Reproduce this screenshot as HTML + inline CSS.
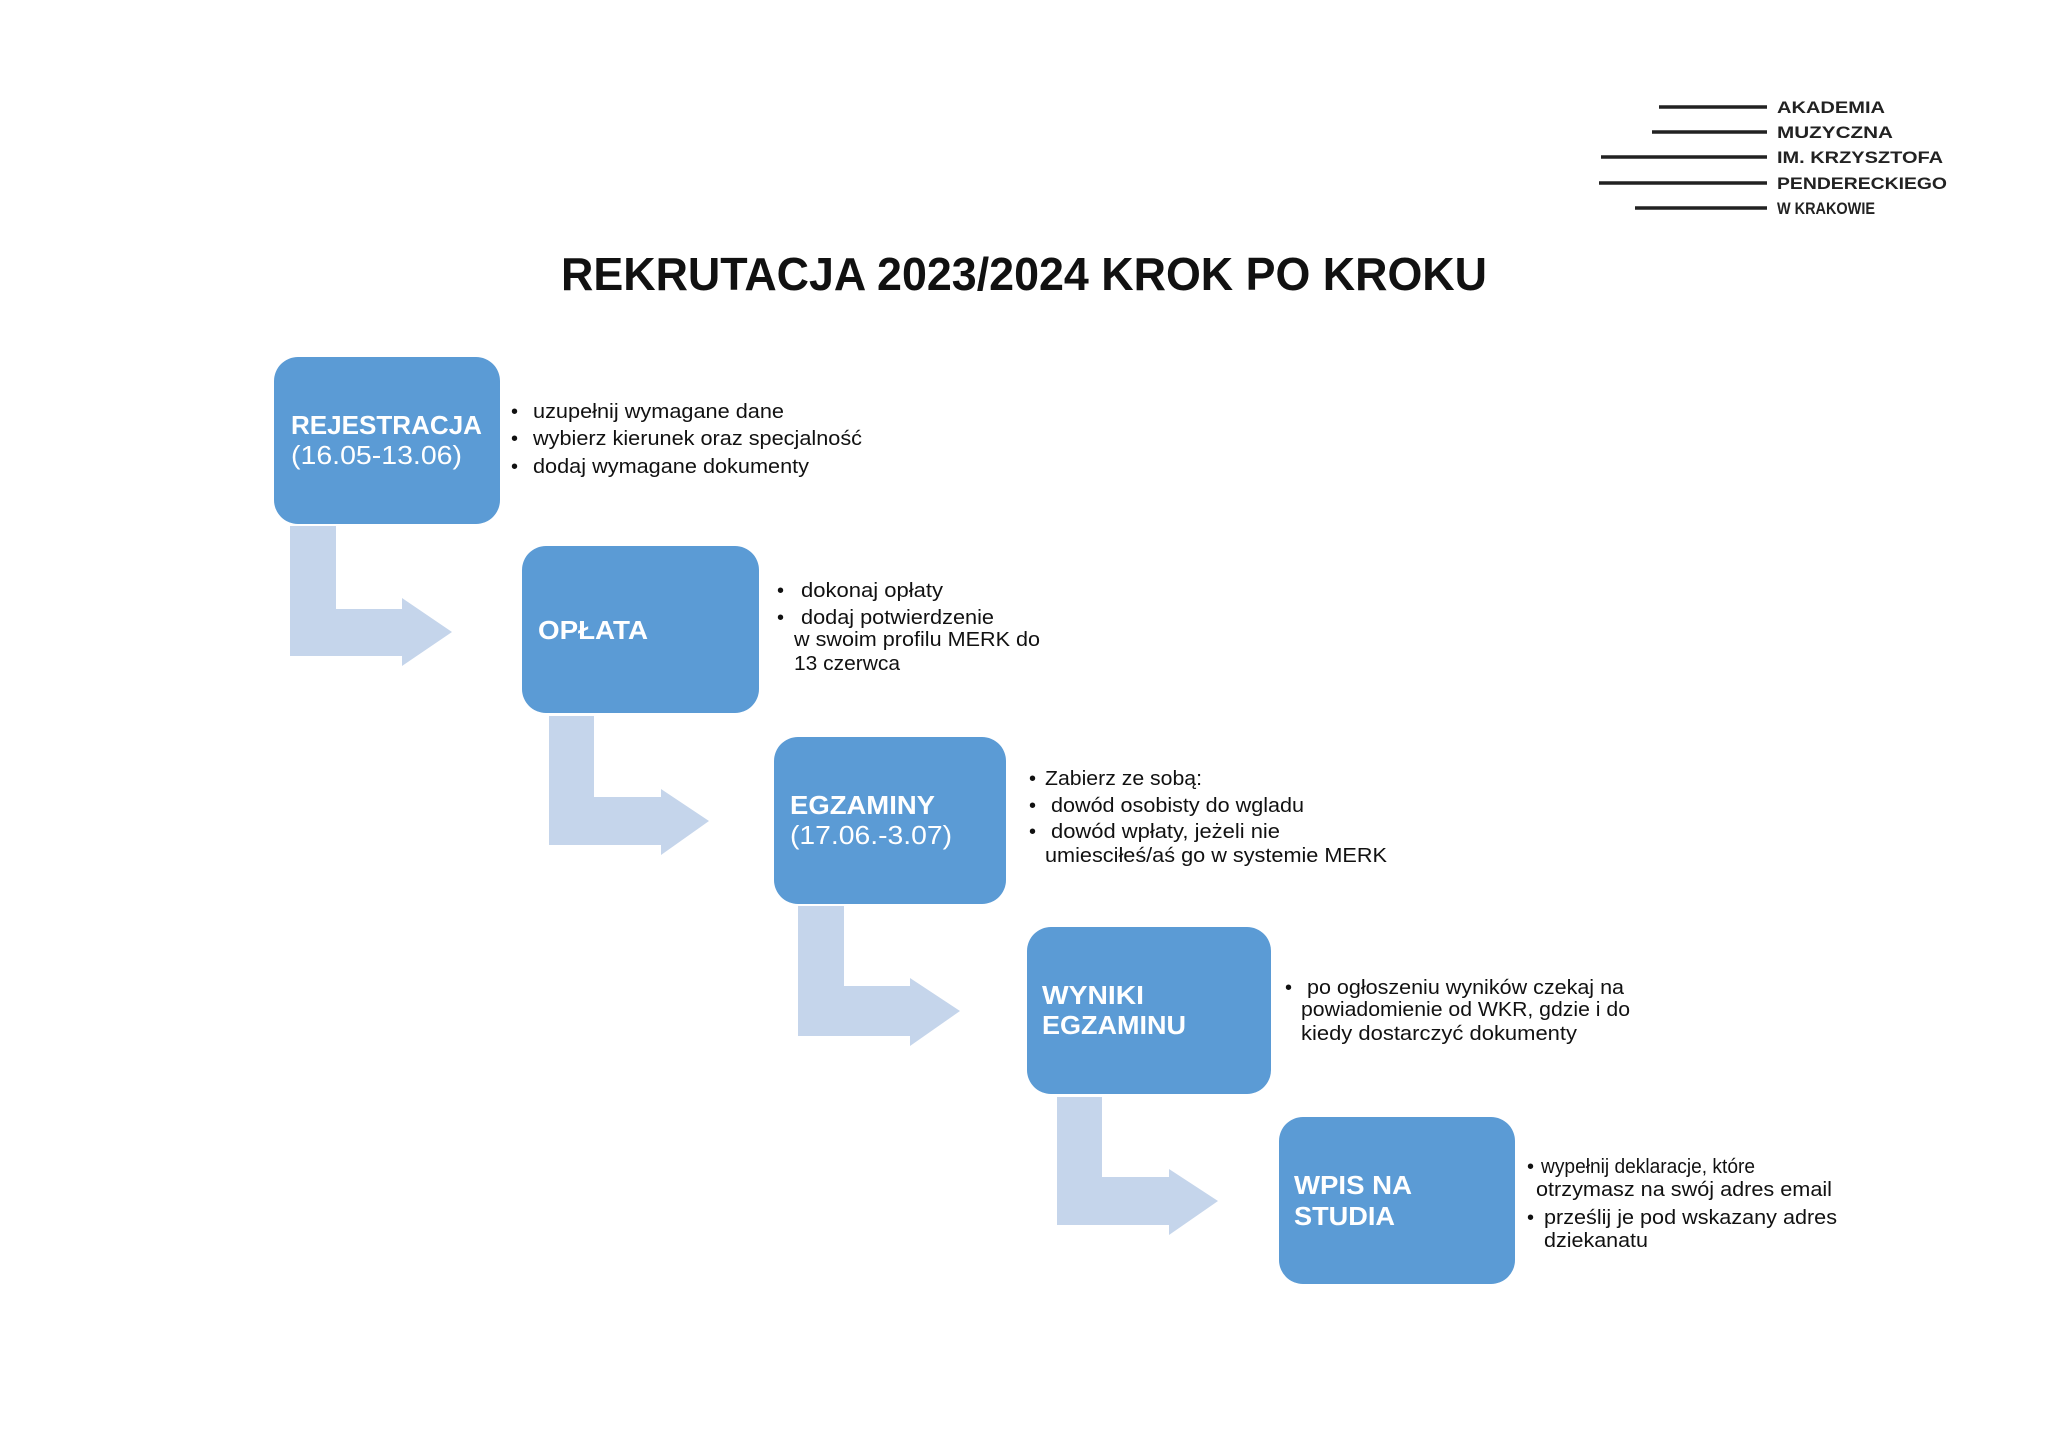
<!DOCTYPE html>
<html><head><meta charset="utf-8"><style>
html,body{margin:0;padding:0;background:#fff;}
svg{display:block;}
.t{font-family:"Liberation Sans",sans-serif;}
.b{font-family:"Liberation Sans",sans-serif;font-weight:bold;fill:#fff;font-size:26px;}
.r{font-family:"Liberation Sans",sans-serif;fill:#fff;font-size:26px;}
.s{font-family:"Liberation Sans",sans-serif;fill:#111;font-size:20px;}
.l{font-family:"Liberation Sans",sans-serif;font-weight:bold;fill:#222;font-size:17px;}
</style></head><body>
<svg width="2048" height="1449" viewBox="0 0 2048 1449" xmlns="http://www.w3.org/2000/svg">
<rect width="2048" height="1449" fill="#fff"/>
<!-- logo -->
<g stroke="#222" stroke-width="3.5">
<line x1="1659" y1="107" x2="1767" y2="107"/>
<line x1="1652" y1="132" x2="1767" y2="132"/>
<line x1="1601" y1="157" x2="1767" y2="157"/>
<line x1="1599" y1="183" x2="1767" y2="183"/>
<line x1="1635" y1="208" x2="1767" y2="208"/>
</g>
<text class="l" x="1777" y="113" textLength="108" lengthAdjust="spacingAndGlyphs">AKADEMIA</text>
<text class="l" x="1777" y="138" textLength="116" lengthAdjust="spacingAndGlyphs">MUZYCZNA</text>
<text class="l" x="1777" y="163" textLength="166" lengthAdjust="spacingAndGlyphs">IM. KRZYSZTOFA</text>
<text class="l" x="1777" y="189" textLength="170" lengthAdjust="spacingAndGlyphs">PENDERECKIEGO</text>
<text class="l" x="1777" y="214" textLength="98" lengthAdjust="spacingAndGlyphs">W KRAKOWIE</text>
<!-- title -->
<text class="t" x="561" y="290" font-size="46" font-weight="bold" fill="#111" textLength="926" lengthAdjust="spacingAndGlyphs">REKRUTACJA 2023/2024 KROK PO KROKU</text>
<!-- arrows -->
<g fill="#c5d5eb">
<polygon points="290,526 336,526 336,609 402,609 402,598 452,632 402,666 402,656 290,656"/>
<polygon points="549,716 594,716 594,797 661,797 661,789 709,821 661,855 661,845 549,845"/>
<polygon points="798,906 844,906 844,986 910,986 910,978 960,1011 910,1046 910,1036 798,1036"/>
<polygon points="1057,1097 1102,1097 1102,1177 1169,1177 1169,1169 1218,1201 1169,1235 1169,1225 1057,1225"/>
</g>
<!-- boxes -->
<g fill="#5b9bd5">
<rect x="274" y="357" width="226" height="167" rx="24"/>
<rect x="522" y="546" width="237" height="167" rx="24"/>
<rect x="774" y="737" width="232" height="167" rx="24"/>
<rect x="1027" y="927" width="244" height="167" rx="24"/>
<rect x="1279" y="1117" width="236" height="167" rx="24"/>
</g>
<text class="b" x="291" y="434" textLength="191" lengthAdjust="spacingAndGlyphs">REJESTRACJA</text>
<text class="r" x="291" y="464" textLength="171" lengthAdjust="spacingAndGlyphs">(16.05-13.06)</text>
<text class="b" x="538" y="639" textLength="110" lengthAdjust="spacingAndGlyphs">OPŁATA</text>
<text class="b" x="790" y="814" textLength="145" lengthAdjust="spacingAndGlyphs">EGZAMINY</text>
<text class="r" x="790" y="844" textLength="162" lengthAdjust="spacingAndGlyphs">(17.06.-3.07)</text>
<text class="b" x="1042" y="1004" textLength="102" lengthAdjust="spacingAndGlyphs">WYNIKI</text>
<text class="b" x="1042" y="1034" textLength="144" lengthAdjust="spacingAndGlyphs">EGZAMINU</text>
<text class="b" x="1294" y="1194" textLength="118" lengthAdjust="spacingAndGlyphs">WPIS NA</text>
<text class="b" x="1294" y="1225" textLength="101" lengthAdjust="spacingAndGlyphs">STUDIA</text>
<!-- bullets -->
<g class="s">
<text x="511" y="418">•</text><text x="533" y="418" textLength="251" lengthAdjust="spacingAndGlyphs">uzupełnij wymagane dane</text>
<text x="511" y="445">•</text><text x="533" y="445" textLength="329" lengthAdjust="spacingAndGlyphs">wybierz kierunek oraz specjalność</text>
<text x="511" y="473">•</text><text x="533" y="473" textLength="276" lengthAdjust="spacingAndGlyphs">dodaj wymagane dokumenty</text>

<text x="777" y="597">•</text><text x="801" y="597" textLength="142" lengthAdjust="spacingAndGlyphs">dokonaj opłaty</text>
<text x="777" y="624">•</text><text x="801" y="624" textLength="193" lengthAdjust="spacingAndGlyphs">dodaj potwierdzenie</text>
<text x="794" y="646" textLength="246" lengthAdjust="spacingAndGlyphs">w swoim profilu MERK do</text>
<text x="794" y="670" textLength="106" lengthAdjust="spacingAndGlyphs">13 czerwca</text>

<text x="1029" y="785">•</text><text x="1045" y="785" textLength="157" lengthAdjust="spacingAndGlyphs">Zabierz ze sobą:</text>
<text x="1029" y="812">•</text><text x="1051" y="812" textLength="253" lengthAdjust="spacingAndGlyphs">dowód osobisty do wgladu</text>
<text x="1029" y="838">•</text><text x="1051" y="838" textLength="229" lengthAdjust="spacingAndGlyphs">dowód wpłaty, jeżeli nie</text>
<text x="1045" y="862" textLength="342" lengthAdjust="spacingAndGlyphs">umiesciłeś/aś go w systemie MERK</text>

<text x="1285" y="994">•</text><text x="1307" y="994" textLength="317" lengthAdjust="spacingAndGlyphs">po ogłoszeniu wyników czekaj na</text>
<text x="1301" y="1016" textLength="329" lengthAdjust="spacingAndGlyphs">powiadomienie od WKR, gdzie i do</text>
<text x="1301" y="1040" textLength="276" lengthAdjust="spacingAndGlyphs">kiedy dostarczyć dokumenty</text>

<text x="1527" y="1173">•</text><text x="1541" y="1173" textLength="214" lengthAdjust="spacingAndGlyphs">wypełnij deklaracje, które</text>
<text x="1536" y="1196" textLength="296" lengthAdjust="spacingAndGlyphs">otrzymasz na swój adres email</text>
<text x="1527" y="1224">•</text><text x="1544" y="1224" textLength="293" lengthAdjust="spacingAndGlyphs">prześlij je pod wskazany adres</text>
<text x="1544" y="1247" textLength="104" lengthAdjust="spacingAndGlyphs">dziekanatu</text>
</g>
</svg>
</body></html>
